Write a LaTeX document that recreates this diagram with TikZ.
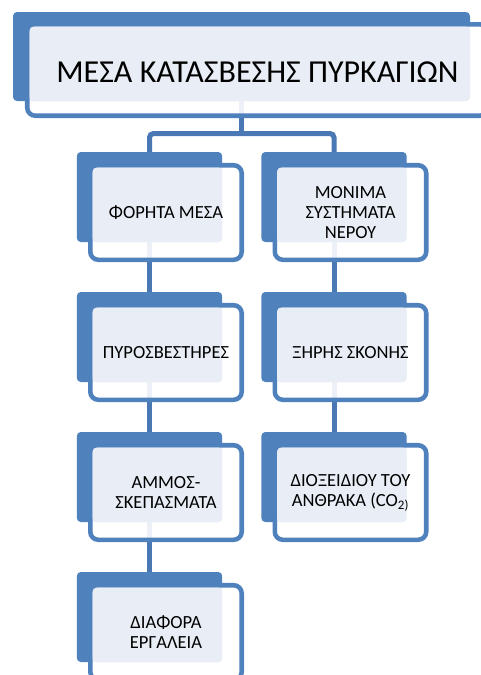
\documentclass[tikz,border=0pt]{standalone}
\usepackage{fontspec}
\setmainfont{Carlito}
\usepackage{tikz}
\usetikzlibrary{positioning,backgrounds,calc}
\definecolor{accent}{HTML}{4F81BD}
\definecolor{linkblue}{HTML}{4A78B4}
\definecolor{paleblue}{HTML}{E9EEF6}
\newcommand{\accentbox}[3]{%
  \node[back] (#1) at (#2) {};
  \node[ring] (#1r) at ($(#1)+(16.5,15.5)$) {};
  \fill[pale] ($(#1r.north west)+(2.3,2.3)$) rectangle (#1.south east);
  \node[boxtext] (#1t) at (#1r) {#3};}

\begin{document}
\begin{tikzpicture}[x=0.75pt, y=-0.75pt,
    back/.style={fill=accent, rounded corners=3pt, inner sep=0pt, outer sep=0pt,
      minimum width=109pt, minimum height=67.5pt},
    ring/.style={draw=accent, line width=3.4pt, fill=white, fill opacity=0.9,
      rounded corners=6pt, inner sep=0pt, outer sep=0pt,
      minimum width=113.6pt, minimum height=70.9pt},
    pale/.style={fill=paleblue, rounded corners=3pt},
    boxtext/.style={align=center, inner sep=0pt, font=\fontsize{13.9}{15}\selectfont},
    conn/.style={draw=linkblue, line width=3.75pt}]
    \useasboundingbox (0,0) rectangle (480,675);
    \node[back, minimum width=342.75pt, minimum height=66.75pt] (title) at (241.5,56.5) {};
    \node[ring, minimum width=345.4pt, minimum height=68.6pt] (titler) at (257.5,70) {};
    \fill[pale] ($(titler.north west)+(2.3,2.3)$) rectangle (title.south east);
    \node[boxtext, font=\fontsize{24}{30}\selectfont] (titlet) at ($(titler)+(0,2)$) {ΜΕΣΑ ΚΑΤΑΣΒΕΣΗΣ ΠΥΡΚΑΓΙΩΝ};
    \accentbox{fm}{149.5,197}{ΦΟΡΗΤΑ ΜΕΣΑ}
    \accentbox{pyr}{149.5,337}{ΠΥΡΟΣΒΕΣΤΗΡΕΣ}
    \accentbox{ammos}{149.5,477}{ΑΜΜΟΣ-\\ΣΚΕΠΑΣΜΑΤΑ}
    \accentbox{diaf}{149.5,617}{ΔΙΑΦΟΡΑ\\ΕΡΓΑΛΕΙΑ}
    \accentbox{monima}{334,197}{ΜΟΝΙΜΑ\\ΣΥΣΤΗΜΑΤΑ\\ΝΕΡΟΥ}
    \accentbox{xiri}{334,337}{ΞΗΡΗΣ ΣΚΟΝΗΣ}
    \accentbox{dioxid}{334,477}{ΔΙΟΞΕΙΔΙΟΥ ΤΟΥ\\ΑΝΘΡΑΚΑ (CO\textsubscript{2)}}
    \begin{scope}[on background layer]
      \draw[conn] (title.south) -- ++(0,32.5) coordinate (split);
      \draw[conn, rounded corners=3pt] (fm.center) |- (split) -| (monima.center);
      \draw[conn] (fm) -- (pyr);
      \draw[conn] (pyr) -- (ammos);
      \draw[conn] (ammos) -- (diaf);
      \draw[conn] (monima) -- (xiri);
      \draw[conn] (xiri) -- (dioxid);
    \end{scope}
\end{tikzpicture}
\end{document}
